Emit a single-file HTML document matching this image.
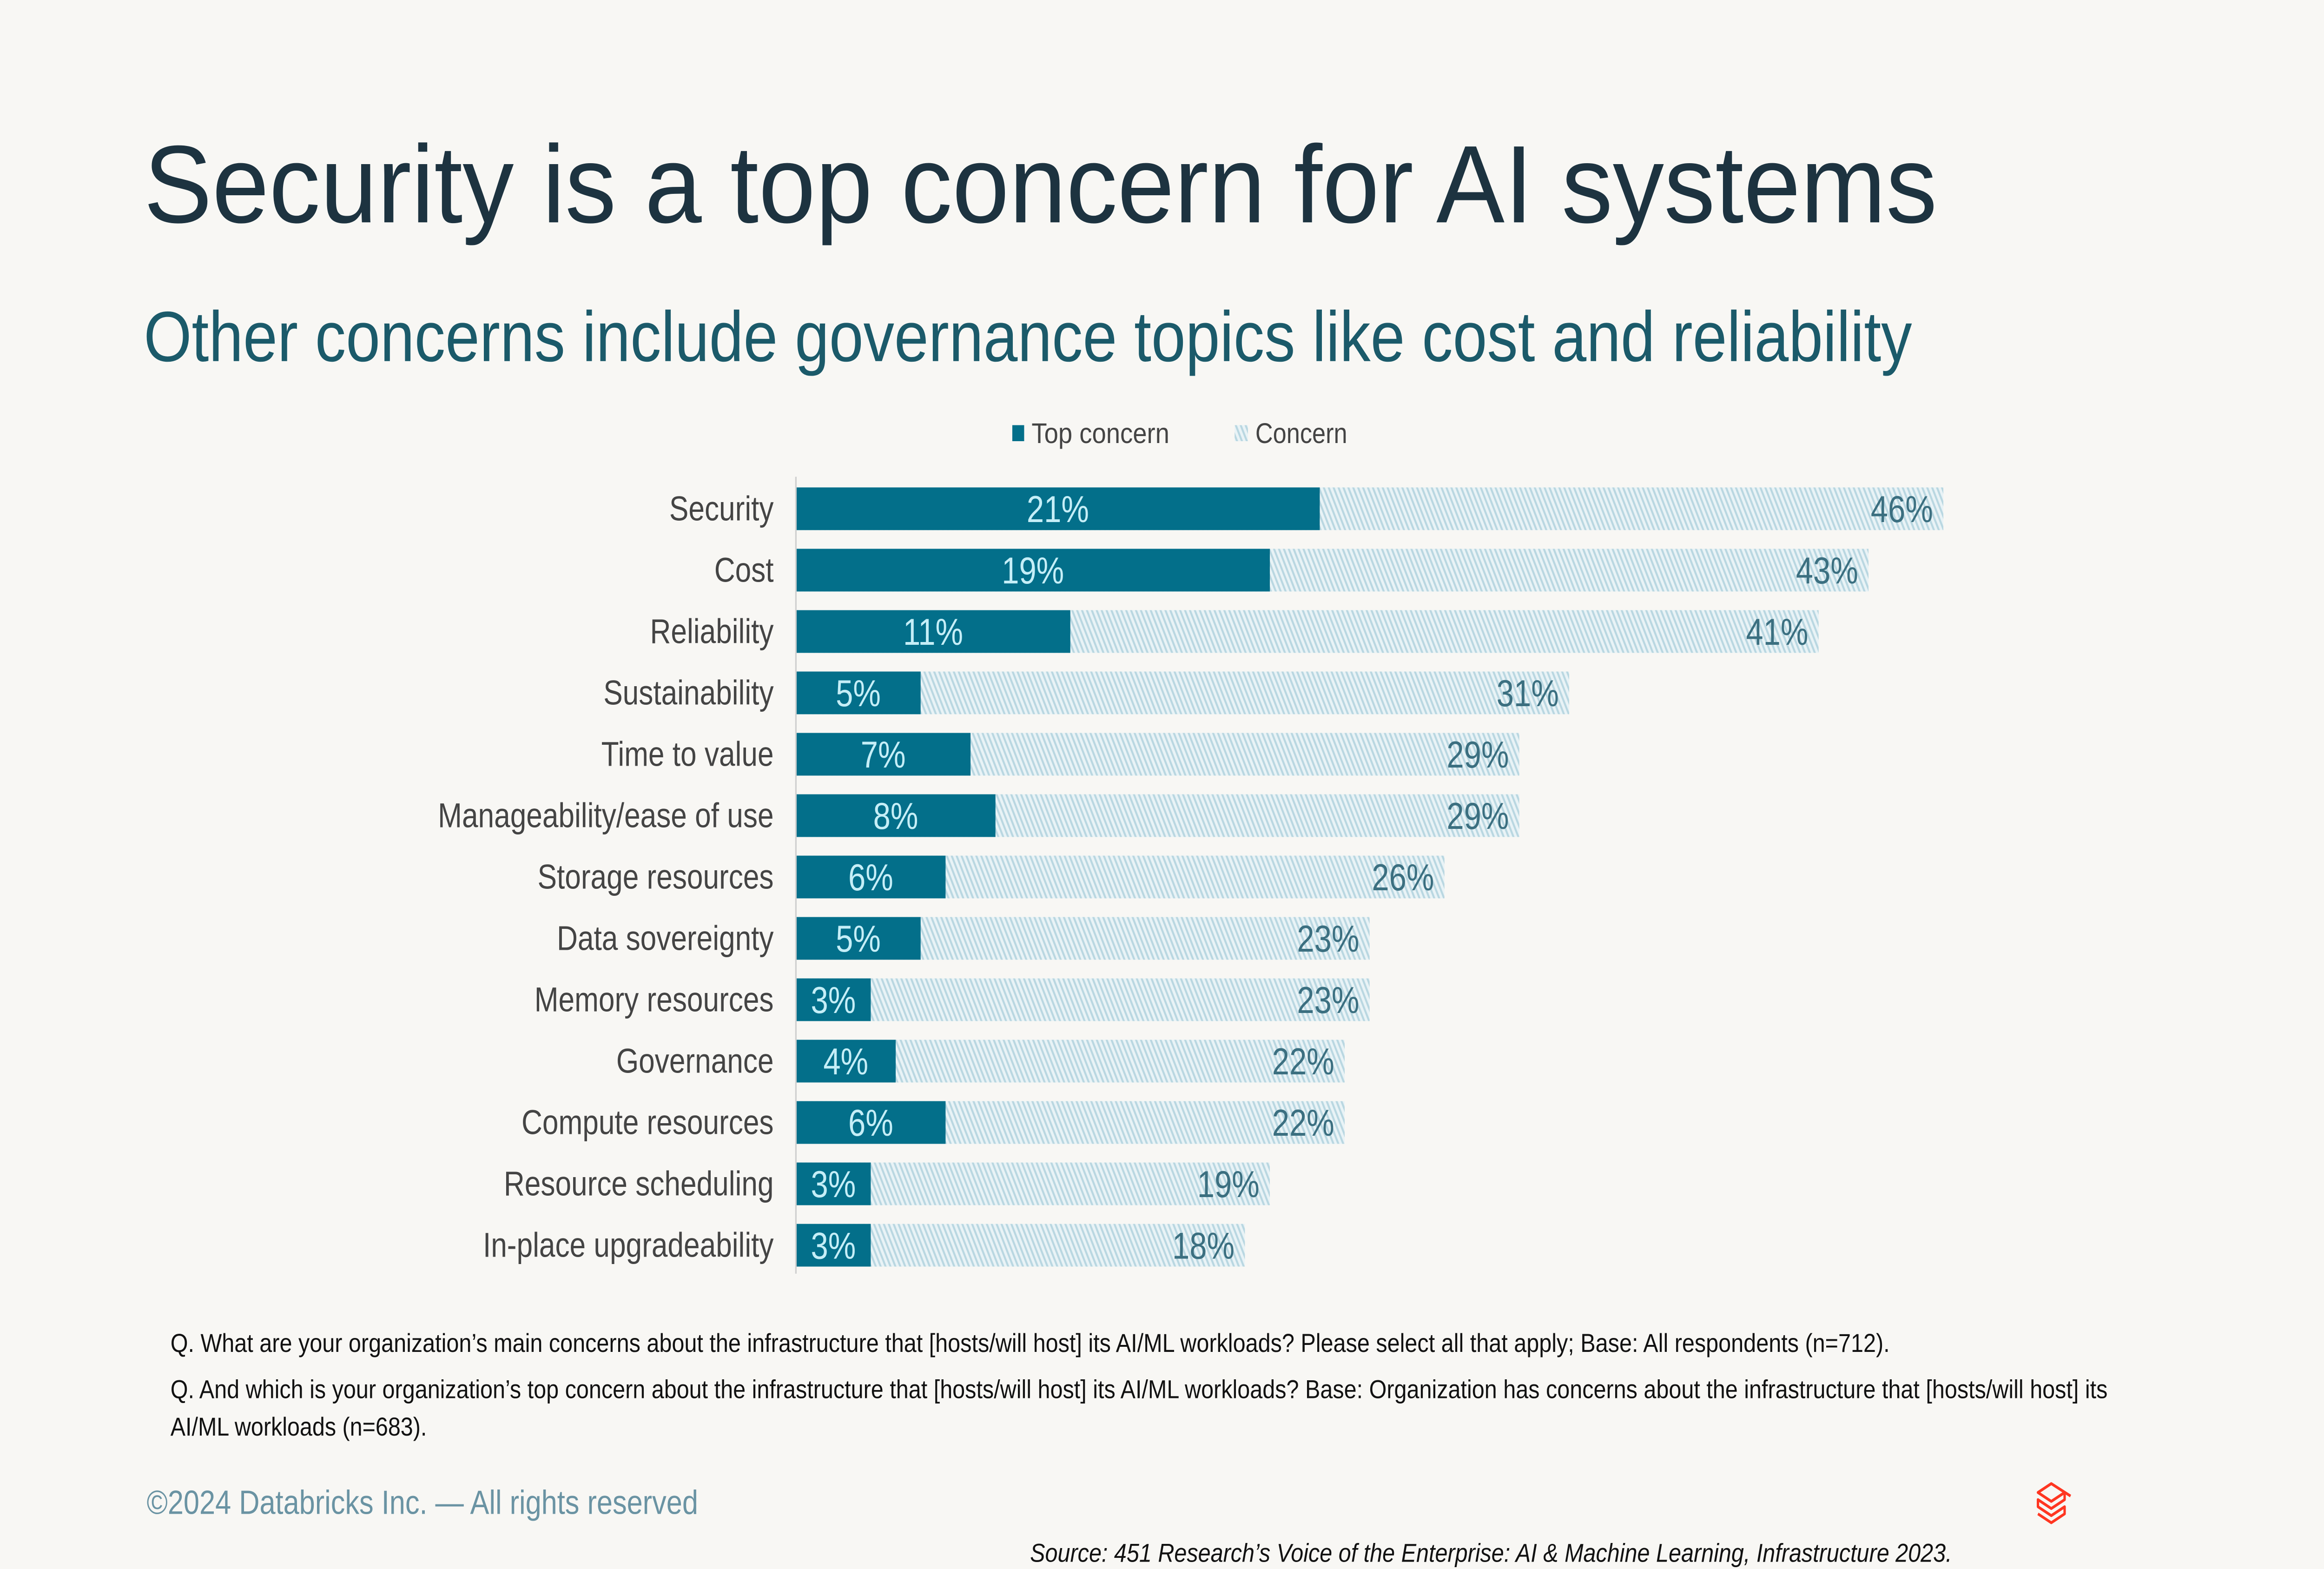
<!DOCTYPE html>
<html><head><meta charset="utf-8"><style>
html,body{margin:0;padding:0;background:#f8f7f4;width:100%;height:100%;overflow:hidden;}
svg{display:block;width:100vw;height:100vh;}
</style></head><body>
<svg id="chart" viewBox="0 0 1568 882" preserveAspectRatio="none" xmlns="http://www.w3.org/2000/svg" font-family="Liberation Sans, sans-serif">
<defs>
<pattern id="hatch" patternUnits="userSpaceOnUse" width="3" height="3" patternTransform="rotate(-25)">
<rect width="3" height="3" fill="#e9f3f6"/>
<rect width="1.3" height="3" fill="#b9d7e1"/>
</pattern>
</defs>
<rect width="1568" height="882" fill="#f8f7f4"/>
<text x="97" y="125" font-size="62" fill="#1d3340" textLength="1210" lengthAdjust="spacingAndGlyphs">Security is a top concern for AI systems</text>
<text x="97" y="203" font-size="40" fill="#1b5a6a" textLength="1193" lengthAdjust="spacingAndGlyphs">Other concerns include governance topics like cost and reliability</text>
<g>
<rect x="683" y="239" width="8" height="9" fill="#036f8a"/>
<text x="696" y="249" font-size="16" fill="#444" textLength="93" lengthAdjust="spacingAndGlyphs">Top concern</text>
<rect x="833" y="239" width="9" height="9" fill="url(#hatch)"/>
<text x="847" y="249" font-size="16" fill="#444" textLength="62" lengthAdjust="spacingAndGlyphs">Concern</text>
</g>
<g id="bars"></g>
<line x1="537" y1="268" x2="537" y2="716" stroke="#cfcfcf" stroke-width="1"/>
<g font-size="14.5" fill="#111">
<text x="115" y="760" textLength="1160" lengthAdjust="spacingAndGlyphs">Q. What are your organization’s main concerns about the infrastructure that [hosts/will host] its AI/ML workloads? Please select all that apply; Base: All respondents (n=712).</text>
<text x="115" y="786" textLength="1307" lengthAdjust="spacingAndGlyphs">Q. And which is your organization’s top concern about the infrastructure that [hosts/will host] its AI/ML workloads? Base: Organization has concerns about the infrastructure that [hosts/will host] its</text>
<text x="115" y="807" textLength="173" lengthAdjust="spacingAndGlyphs">AI/ML workloads (n=683).</text>
</g>
<text x="99" y="851" font-size="19" fill="#6a93a3" textLength="372" lengthAdjust="spacingAndGlyphs">©2024 Databricks Inc. — All rights reserved</text>
<text x="1317" y="878" font-size="14.5" font-style="italic" fill="#111" text-anchor="end" textLength="622" lengthAdjust="spacingAndGlyphs">Source: 451 Research’s Voice of the Enterprise: AI &amp; Machine Learning, Infrastructure 2023.</text>
<g fill="none" stroke="#ff3621" stroke-width="1.6" stroke-linejoin="round">
<path d="M1397 841 L1384 834 L1375 839 L1384 844 L1393 839 L1393 843 L1384 848 L1375 843 L1375 847 L1384 852 L1393 847 L1393 851 L1384 856 L1375 851"/>
</g>
</svg>
<script>
const categories=["Security","Cost","Reliability","Sustainability","Time to value","Manageability/ease of use","Storage resources","Data sovereignty","Memory resources","Governance","Compute resources","Resource scheduling","In-place upgradeability"];
const topConcern=[21,19,11,5,7,8,6,5,3,4,6,3,3];
const concern=[46,43,41,31,29,29,26,23,23,22,22,19,18];
const NS="http://www.w3.org/2000/svg";
const x0=537, pxPer=16.83, rowStart=286, rowStep=34.5, barH=24;
function xScale(v){return x0+v*pxPer;}
function yScale(i){return rowStart+i*rowStep;}
const g=document.getElementById('bars');
function mk(tag,attrs){const e=document.createElementNS(NS,tag);for(const k in attrs)e.setAttribute(k,attrs[k]);return e;}
categories.forEach((c,i)=>{
  const cy=yScale(i);
  const lab=mk('text',{x:522,y:cy+6.5,'font-size':19.5,fill:'#444','text-anchor':'end'});
  
  
  lab.textContent=c;g.appendChild(lab);
  const cb=mk('rect',{x:x0,y:cy-barH/2,width:xScale(concern[i])-x0,height:barH,fill:'url(#hatch)'});
  
  
  g.appendChild(cb);
  const tb=mk('rect',{x:x0,y:cy-barH/2,width:xScale(topConcern[i])-x0,height:barH,fill:'#036f8a'});
  
  
  g.appendChild(tb);
  const tl=mk('text',{x:(x0+xScale(topConcern[i]))/2,y:cy+7.5,'font-size':21,fill:'#c5eef7','text-anchor':'middle'});
  
  
  tl.textContent=topConcern[i]+'%';g.appendChild(tl);
  const cl=mk('text',{x:xScale(concern[i])-7,y:cy+7.5,'font-size':21,fill:'#3b6f80','text-anchor':'end'});
  
  
  cl.textContent=concern[i]+'%';g.appendChild(cl);
});
</script>
</body></html>
